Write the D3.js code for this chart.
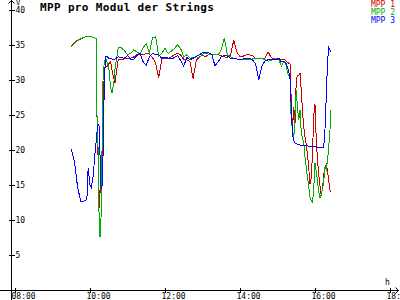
<!DOCTYPE html>
<html><head><meta charset="utf-8">
<script src="https://cdn.jsdelivr.net/npm/d3@7"></script>
<style>
html,body{margin:0;padding:0;background:#fff;overflow:hidden;}
svg{display:block;}
text{font-family:"DejaVu Sans Mono",monospace;}
</style></head>
<body>
<svg id="c" width="400" height="300"></svg>
<script>
const title = "MPP pro Modul der Strings";
const seriesNames = ["MPP 1", "MPP 2", "MPP 3"];
const seriesColors = ["#cc0000", "#00b000", "#0000ff"];
const xTickLabels = ["08:00","10:00","12:00","14:00","16:00","18:00"];
const yTickValues = [5,10,15,20,25,30,35,40];
const yUnit = "V";
const xUnit = "h";

const times = [
 "09:30","09:35","09:40","09:45","09:50","09:55","09:57","10:00","10:02","10:05","10:08","10:10","10:11","10:13","10:15","10:17","10:18","10:20","10:21","10:23","10:25","10:27","10:30","10:33","10:35","10:38","10:40",
 "10:45","10:50","10:55","11:00","11:05","11:10","11:15","11:20","11:25","11:30","11:35","11:40","11:45","11:50","11:55",
 "12:00","12:05","12:10","12:15","12:20","12:25","12:30","12:35","12:40","12:45","12:50","12:55",
 "13:00","13:05","13:10","13:15","13:20","13:25","13:30","13:35","13:40","13:45","13:50","13:55",
 "14:00","14:05","14:10","14:15","14:20","14:25","14:30","14:35","14:40","14:45","14:50","14:55","15:00",
 "15:02","15:04","15:06","15:08","15:10","15:12","15:14","15:16","15:18","15:20","15:22","15:24","15:26","15:28","15:30","15:32","15:34","15:36","15:38","15:40",
 "15:42","15:44","15:46","15:48","15:50","15:52","15:54","15:56","15:58","16:00","16:02","16:04","16:06","16:08","16:10","16:12","16:14","16:16","16:18","16:20","16:22","16:24","16:25"
];

const mpp1 = [
 34.9,35.3,35.7,35.8,36.1,36.2,36.2,36.2,36.2,36.1,36.0,35.8,25.5,18.6,11.7,16.9,12.0,20.0,26.0,31.5,32.1,31.9,32.3,32.6,31.5,30.3,29.6,
 32.9,32.9,33.0,33.1,33.1,33.3,33.6,33.7,33.6,33.8,33.7,33.2,32.4,30.3,33.1,
 33.1,33.1,33.3,33.6,33.8,33.6,32.9,32.9,32.6,30.2,32.8,33.3,
 33.5,33.3,33.7,33.7,33.6,33.6,33.5,33.3,33.2,33.6,35.7,34.0,
 33.3,33.4,33.6,33.6,33.5,33.1,33.1,33.1,33.1,34.0,33.2,33.0,32.9,
 32.9,32.9,32.9,32.9,32.9,32.9,32.7,32.5,32.4,32.4,27.0,23.0,26.2,23.8,30.0,30.6,30.7,31.0,28.5,25.5,
 23.3,21.9,20.8,19.3,17.4,15.2,16.0,19.5,25.0,26.5,21.5,18.5,16.5,14.8,13.5,14.5,16.5,17.6,17.9,17.0,15.5,14.3,14.0
];
const mpp2 = [
 34.8,35.2,35.6,35.9,36.1,36.2,36.2,36.2,36.2,36.1,36.0,35.9,25.5,20.0,7.6,7.6,12.0,25.0,31.0,32.5,33.1,32.6,31.8,29.0,28.1,29.5,31.5,
 34.6,34.6,34.2,33.6,33.8,34.3,34.0,33.7,34.6,35.2,33.9,36.0,36.2,33.4,33.8,
 34.5,33.8,34.1,34.5,35.0,34.5,33.3,33.6,33.1,33.2,33.3,33.2,
 33.7,33.8,33.7,33.6,33.6,33.6,34.3,36.0,33.5,33.3,33.1,33.0,
 32.9,32.9,32.9,32.9,33.0,33.1,33.1,33.1,32.9,32.7,32.8,33.0,33.1,
 33.1,32.5,32.0,32.3,32.6,32.6,32.0,31.0,30.6,30.2,24.0,23.0,21.5,25.0,28.6,26.0,24.3,25.7,22.5,21.6,
 21.2,19.0,17.6,16.0,14.8,13.3,12.8,12.4,14.5,18.1,17.0,15.5,14.0,13.1,13.6,14.5,15.5,17.6,17.2,18.5,20.5,22.9,25.7
];
const mpp3 = [
 20.1,18.4,14.8,12.7,12.7,12.9,17.4,15.0,14.6,16.2,19.5,21.4,22.5,23.6,23.3,15.5,14.5,15.0,20.0,30.0,33.3,33.4,33.1,33.1,33.0,32.9,33.0,
 33.3,33.2,33.1,33.5,33.0,33.0,33.5,33.8,32.6,32.1,33.3,33.8,33.6,33.6,33.1,
 33.3,33.1,33.0,33.2,33.5,32.8,32.0,33.2,32.9,33.1,33.4,33.6,
 33.9,34.0,33.9,33.6,32.0,32.6,33.3,33.5,33.4,33.1,33.1,33.0,
 32.9,33.0,33.1,33.1,32.9,32.3,30.0,32.0,32.7,32.9,32.9,32.9,33.0,
 33.1,32.9,32.6,32.6,32.6,32.4,32.3,31.8,31.2,30.2,26.0,22.3,21.3,21.0,20.9,20.8,20.8,20.7,20.7,20.7,
 20.7,20.7,20.6,20.6,20.5,20.5,20.5,20.5,20.5,20.5,20.4,20.4,20.4,20.4,20.4,20.3,20.5,23.0,27.5,32.5,34.6,34.3,34.0
];

const toMin = s => { const [h,m] = s.split(":").map(Number); return h*60+m; };

const svg = d3.select("#c");
const x = d3.scaleLinear().domain([toMin("08:00"), toMin("18:00")]).range([15, 390]);
const y = d3.scaleLinear().domain([0, 40]).range([290, 10]);
const axX = 11.5, axY = 290.5;

// Y axis
const yAxis = d3.axisLeft(y).tickValues(yTickValues).tickFormat(d => d).tickSize(0);
const gy = svg.append("g").attr("transform", `translate(${axX},0)`).call(yAxis);
gy.select(".domain").remove();
gy.selectAll(".tick line").attr("x1", -3).attr("x2", 3).attr("stroke", "#000").attr("shape-rendering","crispEdges");
gy.selectAll(".tick text").attr("x", 4).attr("dy", "0.35em").attr("text-anchor", "start")
  .attr("font-size", 8).attr("font-family", "DejaVu Sans Mono").attr("fill","#000");

// X axis
const xAxis = d3.axisBottom(x).tickValues(xTickLabels.map(toMin))
  .tickFormat((d,i) => xTickLabels[i]).tickSize(0);
const gx = svg.append("g").attr("transform", `translate(0,${axY})`).call(xAxis);
gx.select(".domain").remove();
gx.selectAll(".tick line").attr("y1", -3).attr("y2", 2).attr("stroke", "#000").attr("shape-rendering","crispEdges");
gx.selectAll(".tick text").attr("x", -4).attr("y", 3).attr("dy", "0.71em").attr("text-anchor", "start")
  .attr("font-size", 8).attr("font-family", "DejaVu Sans Mono").attr("fill","#000");

// axis lines with arrows
svg.append("line").attr("x1", axX).attr("x2", axX).attr("y1", 0).attr("y2", 300)
  .attr("stroke", "#000").attr("shape-rendering","crispEdges");
svg.append("line").attr("x1", 0).attr("x2", 399).attr("y1", axY).attr("y2", axY)
  .attr("stroke", "#000").attr("shape-rendering","crispEdges");
svg.append("path").attr("d", `M${axX-3},3.5L${axX},0.5L${axX+3},3.5`).attr("fill","none").attr("stroke","#000");
svg.append("path").attr("d", `M395.5,${axY-3}L398.5,${axY}L395.5,${axY+3}`).attr("fill","none").attr("stroke","#000");
svg.append("text").attr("x", 16).attr("y", 5).text(yUnit).attr("font-size", 7).attr("fill","#000");
svg.append("text").attr("x", 385).attr("y", 285).text(xUnit).attr("font-size", 8).attr("fill","#000");

// Title
svg.append("text").attr("x", 40).attr("y", 11).text(title)
  .attr("font-size", 11).attr("font-weight", "bold").attr("letter-spacing", 0.35).attr("fill","#000");

// Lines
const series = [mpp1, mpp2, mpp3];
const line = d3.line().x(d => x(d[0])).y(d => y(d[1]));
series.forEach((vals, k) => {
  const pts = times.map((t, i) => [toMin(t), vals[i]]);
  svg.append("path").datum(pts).attr("d", line).attr("fill", "none")
    .attr("stroke", seriesColors[k]).attr("stroke-width", 1).attr("shape-rendering", "crispEdges");
});

// Legend
seriesNames.forEach((n, k) => {
  svg.append("text").attr("x", 395).attr("y", 7 + k*8).attr("text-anchor", "end")
    .attr("font-size", 8).attr("fill", seriesColors[k]).text(n);
});
</script>
</body></html>
